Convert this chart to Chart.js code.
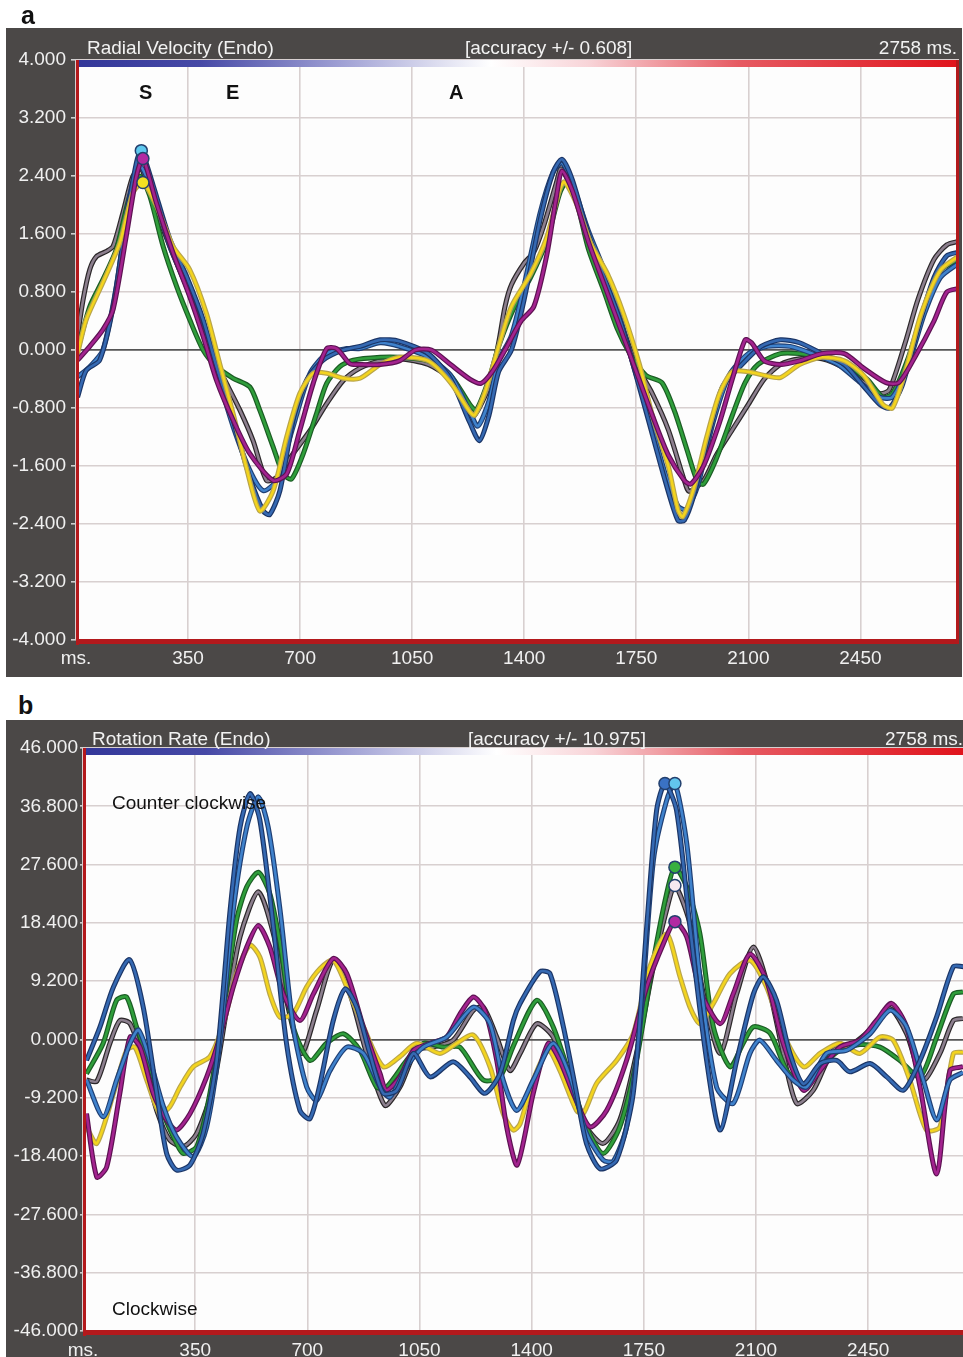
<!DOCTYPE html>
<html lang="en">
<head>
<meta charset="UTF-8" />
<title>Radial Velocity / Rotation Rate (Endo)</title>
<script src="https://cdn.jsdelivr.net/npm/chart.js@4.4.0/dist/chart.umd.min.js"></script>
<style>
  body { margin: 0; background: #fff; font-family: "Liberation Sans", Arial, sans-serif; }
  #page { position: relative; width: 963px; height: 1357px; overflow: hidden; }
  .panel { position: absolute; left: 6px; background: #4b4847; }
  .panel canvas { position: absolute; left: 0; top: 0; }
  .lbl { position: absolute; white-space: nowrap; line-height: 1; z-index: 2; }
  .head { color: #f2f2f2; font-size: 19px; }
  .letter { font-weight: bold; font-size: 25px; color: #111; }
  .wave { font-weight: bold; font-size: 20px; color: #111; }
  .note { font-size: 19px; color: #111; }
</style>
</head>
<body>
<div id="page">
  <div class="lbl letter" style="left:21px; top:3px;">a</div>
  <div class="panel" style="top:28px; width:956px; height:649px;">
    <canvas id="radial" width="956" height="649"></canvas>
  </div>
  <div class="lbl head" style="left:87px; top:38px;">Radial Velocity (Endo)</div>
  <div class="lbl head" style="left:465px; top:38px;">[accuracy +/- 0.608]</div>
  <div class="lbl head" style="right:6px; top:38px;">2758 ms.</div>
  <div class="lbl wave" style="left:139px; top:82px;">S</div>
  <div class="lbl wave" style="left:226px; top:82px;">E</div>
  <div class="lbl wave" style="left:449px; top:82px;">A</div>

  <div class="lbl letter" style="left:18px; top:693px;">b</div>
  <div class="panel" style="top:720px; width:957px; height:637px;">
    <canvas id="rotation" width="957" height="637"></canvas>
  </div>
  <div class="lbl head" style="left:92px; top:729px;">Rotation Rate (Endo)</div>
  <div class="lbl head" style="left:468px; top:729px;">[accuracy +/- 10.975]</div>
  <div class="lbl head" style="left:885px; top:729px;">2758 ms.</div>
  <div class="lbl note" style="left:112px; top:793px;">Counter clockwise</div>
  <div class="lbl note" style="left:112px; top:1299px;">Clockwise</div>
</div>

<script>
  // ---- a: radial velocity (ms / value) ----
  const rvBlueAms = [5, 32, 74, 116, 157, 189, 204, 241, 293, 345, 397, 439, 491, 543, 585, 605, 637, 678, 720, 772, 835, 887, 950, 1010, 1100, 1170, 1230, 1260, 1290, 1320, 1360, 1400, 1450, 1490, 1518, 1550, 1600, 1650, 1700, 1740, 1790, 1840, 1880, 1900, 1930, 1980, 2020, 2080, 2140, 2200, 2260, 2330, 2400, 2460, 2510, 2540, 2580, 2630, 2680, 2720, 2758];
  const rvBlueA = [-0.65, -0.28, -0.14, 0.60, 1.80, 2.59, 2.75, 2.27, 1.53, 1.02, 0.42, -0.23, -0.97, -1.76, -2.22, -2.27, -1.94, -0.97, -0.42, -0.14, 0.0, 0.05, 0.14, 0.12, -0.05, -0.4, -1.0, -1.25, -0.9, -0.3, 0.0, 0.7, 1.8, 2.45, 2.63, 2.35, 1.6, 1.0, 0.4, -0.2, -1.0, -1.8, -2.35, -2.35, -2.0, -1.1, -0.5, -0.2, 0.05, 0.14, 0.1, -0.05, -0.2, -0.5, -0.75, -0.8, -0.5, 0.3, 1.0, 1.3, 1.35];

  const rvBlueBms = [5, 43, 84, 126, 168, 199, 241, 293, 345, 397, 439, 491, 543, 585, 626, 678, 731, 783, 845, 887, 950, 1010, 1100, 1170, 1230, 1255, 1290, 1320, 1360, 1400, 1450, 1490, 1518, 1550, 1600, 1650, 1700, 1740, 1790, 1840, 1880, 1905, 1940, 1990, 2040, 2100, 2160, 2230, 2300, 2380, 2450, 2510, 2550, 2600, 2650, 2700, 2758];
  const rvBlueB = [-0.37, -0.23, 0.0, 0.88, 2.13, 2.54, 2.17, 1.43, 0.88, 0.23, -0.32, -1.06, -1.66, -1.94, -1.80, -1.06, -0.32, -0.05, 0.02, 0.02, 0.1, 0.05, -0.1, -0.35, -0.85, -1.05, -0.7, -0.15, 0.2, 0.9, 1.9, 2.45, 2.58, 2.3, 1.65, 1.1, 0.45, -0.2, -0.9, -1.7, -2.15, -2.2, -1.9, -1.0, -0.35, -0.05, 0.05, 0.05, -0.05, -0.2, -0.45, -0.65, -0.65, -0.2, 0.5, 1.0, 1.2];

  const rvGrayms = [5, 22, 43, 64, 95, 116, 147, 178, 204, 241, 293, 345, 397, 439, 470, 512, 553, 595, 626, 678, 731, 783, 835, 887, 950, 1010, 1100, 1170, 1230, 1245, 1290, 1320, 1340, 1360, 1400, 1430, 1460, 1500, 1515, 1550, 1600, 1650, 1700, 1750, 1800, 1850, 1900, 1915, 1960, 2000, 2050, 2100, 2150, 2200, 2260, 2330, 2400, 2460, 2510, 2540, 2590, 2630, 2680, 2720, 2758];
  const rvGray = [0.2, 0.69, 1.11, 1.29, 1.36, 1.43, 1.90, 2.40, 2.50, 2.03, 1.43, 0.88, 0.28, -0.19, -0.46, -0.83, -1.25, -1.80, -1.76, -1.43, -1.11, -0.74, -0.42, -0.25, -0.15, -0.12, -0.2, -0.4, -0.8, -0.9, -0.5, 0.1, 0.6, 0.9, 1.2, 1.35, 1.7, 2.3, 2.5, 2.2, 1.6, 1.0, 0.4, -0.2, -0.6, -1.1, -1.8, -1.95, -1.8, -1.45, -1.1, -0.75, -0.4, -0.2, -0.12, -0.12, -0.25, -0.45, -0.6, -0.55, 0.1, 0.7, 1.25, 1.45, 1.5];

  const rvGreenms = [5, 43, 84, 126, 168, 199, 230, 272, 314, 355, 397, 439, 491, 543, 574, 616, 647, 673, 710, 751, 783, 824, 866, 950, 1010, 1100, 1170, 1230, 1250, 1290, 1320, 1370, 1420, 1470, 1510, 1530, 1560, 1600, 1650, 1690, 1730, 1780, 1830, 1870, 1910, 1940, 1960, 2000, 2050, 2090, 2130, 2200, 2260, 2330, 2400, 2470, 2520, 2550, 2600, 2650, 2700, 2758];
  const rvGreen = [0.0, 0.60, 0.97, 1.39, 2.13, 2.40, 2.13, 1.43, 0.88, 0.42, 0.0, -0.23, -0.39, -0.51, -0.83, -1.34, -1.71, -1.78, -1.43, -0.88, -0.46, -0.23, -0.14, -0.1, -0.1, -0.15, -0.35, -0.75, -0.83, -0.4, 0.05, 0.6, 1.0, 1.5, 2.15, 2.3, 2.1, 1.4, 0.8, 0.3, -0.05, -0.35, -0.45, -0.85, -1.4, -1.8, -1.85, -1.5, -0.9, -0.45, -0.2, -0.05, -0.05, -0.1, -0.2, -0.4, -0.65, -0.6, -0.1, 0.6, 1.1, 1.25];

  const rvYellowms = [5, 32, 84, 137, 178, 209, 251, 303, 355, 407, 449, 491, 532, 574, 616, 658, 699, 741, 783, 835, 887, 950, 1010, 1100, 1170, 1230, 1245, 1280, 1320, 1360, 1420, 1470, 1510, 1525, 1560, 1610, 1660, 1710, 1760, 1800, 1850, 1880, 1895, 1930, 1970, 2010, 2050, 2100, 2150, 2200, 2260, 2330, 2400, 2460, 2520, 2550, 2590, 2640, 2700, 2758];
  const rvYellow = [-0.05, 0.42, 0.93, 1.48, 2.17, 2.31, 1.99, 1.43, 1.11, 0.51, -0.19, -0.88, -1.62, -2.22, -1.94, -1.20, -0.60, -0.32, -0.32, -0.39, -0.39, -0.2, -0.1, -0.15, -0.45, -0.85, -0.9, -0.55, 0.05, 0.6, 1.05, 1.55, 2.2, 2.32, 2.05, 1.45, 1.05, 0.5, -0.2, -0.9, -1.6, -2.2, -2.3, -1.9, -1.2, -0.6, -0.3, -0.3, -0.35, -0.38, -0.2, -0.1, -0.15, -0.35, -0.75, -0.8, -0.3, 0.5, 1.1, 1.3];

  const rvMagentams = [5, 43, 84, 116, 157, 189, 209, 251, 303, 355, 397, 439, 491, 543, 616, 658, 699, 741, 783, 814, 856, 887, 950, 1010, 1060, 1110, 1170, 1230, 1265, 1300, 1340, 1390, 1430, 1470, 1500, 1518, 1550, 1600, 1650, 1700, 1750, 1800, 1850, 1900, 1920, 1960, 2010, 2050, 2090, 2110, 2150, 2200, 2260, 2330, 2400, 2460, 2530, 2570, 2620, 2680, 2720, 2758];
  const rvMagenta = [-0.14, 0.05, 0.28, 0.56, 1.57, 2.40, 2.64, 2.03, 1.34, 0.74, 0.19, -0.42, -0.97, -1.43, -1.80, -1.71, -1.11, -0.46, 0.02, 0.02, -0.19, -0.2, -0.2, -0.15, 0.0, 0.0, -0.2, -0.4, -0.46, -0.3, 0.0, 0.4, 0.6, 1.3, 2.1, 2.47, 2.2, 1.5, 0.9, 0.3, -0.3, -0.9, -1.45, -1.8, -1.85, -1.6, -1.0, -0.4, 0.14, 0.1, -0.15, -0.2, -0.15, -0.05, -0.05, -0.25, -0.45, -0.45, -0.1, 0.4, 0.8, 0.85];

  const rvMarkMs = [204, 209, 209];
  const rvMark = [2.75, 2.64, 2.31];
  const rvMarkFill = ['#5ec8ee', '#b22aa2', '#f4e020'];

  const rvTicksY = { min: -4, max: 4, step: 0.8 };

  // ---- b: rotation rate (ms / value) ----
  const rrBlueAms = [11, 53, 95, 145, 188, 230, 261, 292, 334, 375, 417, 459, 490, 521, 552, 594, 635, 677, 708, 740, 781, 818, 854, 895, 937, 979, 1031, 1083, 1155, 1207, 1254, 1301, 1343, 1364, 1426, 1457, 1499, 1540, 1571, 1613, 1665, 1717, 1759, 1790, 1816, 1852, 1894, 1946, 1988, 2040, 2092, 2123, 2164, 2206, 2248, 2300, 2352, 2393, 2456, 2508, 2560, 2612, 2664, 2716, 2746];
  const rrBlueA = [-3.3, 2.0, 8.3, 12.6, 5.1, -8.5, -18.0, -20.6, -19.8, -14.8, -3.3, 20.4, 33.5, 38.8, 34.6, 17.8, -0.6, -11.2, -12.5, -6.9, 3.0, 8.0, 5.1, -2.2, -8.5, -8.0, -2.2, -5.9, -3.5, -5.9, -8.5, -5.4, 3.0, 5.7, 10.7, 10.4, 2.0, -8.5, -16.4, -20.4, -19.0, -8.5, 17.8, 36.2, 40.4, 36.2, 17.8, -3.3, -14.3, -3.3, 7.2, 9.9, 6.2, -2.2, -7.0, -3.8, -3.3, -5.1, -3.8, -5.9, -8.0, -3.3, 3.6, 11.5, 11.5];

  const rrBlueBms = [11, 63, 105, 147, 173, 209, 251, 292, 344, 386, 427, 469, 511, 547, 578, 615, 656, 698, 729, 771, 823, 875, 927, 958, 1010, 1062, 1135, 1218, 1270, 1311, 1353, 1405, 1467, 1520, 1571, 1623, 1655, 1696, 1738, 1780, 1821, 1847, 1884, 1925, 1977, 2029, 2081, 2112, 2164, 2216, 2258, 2320, 2383, 2456, 2518, 2570, 2622, 2664, 2705, 2746];
  const rrBlueB = [-6.4, -12.2, -6.4, -0.6, 1.5, -3.3, -10.6, -15.4, -18.5, -13.8, -0.6, 20.4, 33.5, 38.3, 33.5, 20.4, 2.0, -7.5, -9.6, -4.9, -1.2, -2.2, -7.5, -9.1, -4.3, -1.2, 0.4, 5.1, 2.5, -6.4, -11.2, -6.4, -0.6, -5.9, -14.8, -19.0, -19.2, -13.8, 2.0, 28.3, 37.7, 40.4, 30.9, 9.9, -7.5, -10.1, -2.2, -0.1, -3.3, -6.4, -7.5, -2.2, -1.7, 0.9, 4.6, 2.0, -6.4, -12.7, -6.4, -5.2];

  const rrGreenms = [11, 63, 105, 136, 167, 209, 251, 292, 313, 355, 396, 438, 479, 511, 547, 583, 615, 656, 708, 760, 812, 864, 916, 947, 1010, 1062, 1124, 1176, 1249, 1301, 1343, 1416, 1467, 1520, 1571, 1623, 1675, 1727, 1780, 1821, 1847, 1884, 1925, 1967, 2019, 2060, 2092, 2144, 2196, 2248, 2300, 2362, 2424, 2487, 2549, 2612, 2664, 2716, 2746];
  const rrGreen = [-5.4, -0.6, 6.2, 6.7, 2.0, -4.3, -11.7, -16.4, -18.0, -16.9, -8.5, 4.6, 18.8, 24.1, 26.4, 23.0, 15.1, 2.0, -3.3, -0.6, 0.9, -1.7, -7.5, -7.5, -3.3, -0.6, -1.2, -1.2, -6.4, -5.9, -1.0, 6.2, 2.0, -5.9, -13.8, -18.0, -13.8, -3.3, 12.5, 23.0, 27.2, 24.1, 16.7, 2.0, -4.3, -0.6, 2.0, 1.0, -4.9, -7.2, -4.3, -1.7, -0.8, -1.2, -3.3, -5.9, 0.4, 7.2, 7.5];

  const rrGrayms = [11, 43, 84, 115, 147, 188, 230, 271, 313, 355, 406, 448, 490, 547, 594, 635, 682, 729, 781, 833, 885, 942, 989, 1041, 1093, 1155, 1218, 1249, 1291, 1332, 1364, 1416, 1467, 1520, 1571, 1623, 1675, 1727, 1780, 1821, 1847, 1894, 1936, 1988, 2040, 2092, 2144, 2185, 2227, 2279, 2341, 2404, 2466, 2518, 2570, 2622, 2674, 2716, 2746];
  const rrGray = [-6.4, -6.6, -0.6, 3.0, 2.5, -3.3, -11.2, -15.9, -16.9, -14.8, -7.5, 4.6, 16.2, 23.3, 16.7, 6.2, -2.2, 4.6, 12.5, 7.2, -2.2, -10.4, -7.5, -1.7, -1.2, -0.1, 4.6, 5.1, 0.4, -4.9, -2.2, 2.5, 0.4, -6.4, -13.8, -16.4, -12.7, -2.2, 11.5, 20.4, 24.3, 18.3, 7.2, -2.2, 7.2, 14.6, 7.2, -2.2, -10.1, -8.0, -1.7, -0.6, 2.0, 4.9, 0.9, -6.4, -2.2, 3.0, 3.3];

  const rrYellowms = [11, 43, 95, 136, 162, 199, 240, 271, 303, 344, 396, 438, 479, 521, 552, 583, 615, 656, 698, 740, 781, 823, 875, 937, 989, 1041, 1114, 1166, 1218, 1270, 1311, 1343, 1364, 1405, 1452, 1488, 1540, 1561, 1603, 1665, 1717, 1769, 1821, 1863, 1894, 1925, 1967, 2019, 2081, 2133, 2185, 2248, 2300, 2362, 2424, 2487, 2528, 2580, 2632, 2674, 2716, 2746];
  const rrYellow = [-13.8, -16.4, -8.5, -1.7, -1.2, -6.4, -11.7, -10.6, -7.5, -4.3, -2.7, 2.5, 10.4, 14.9, 13.0, 7.2, 3.5, 4.1, 8.3, 11.2, 12.5, 8.3, 2.0, -4.3, -2.7, -0.6, -2.2, -0.6, 0.7, -4.3, -11.7, -14.3, -13.3, -6.4, -1.7, -4.9, -11.2, -11.7, -6.9, -3.3, 0.9, 11.5, 16.7, 9.9, 5.1, 2.5, 5.7, 10.4, 12.5, 8.3, 0.9, -4.3, -2.2, -0.6, -2.2, 0.4, -0.1, -6.4, -14.3, -13.8, -2.2, -2.0];

  const rrMagentams = [11, 43, 74, 115, 147, 178, 219, 261, 292, 334, 386, 427, 469, 511, 547, 583, 625, 677, 719, 781, 823, 875, 927, 947, 989, 1031, 1083, 1135, 1176, 1218, 1254, 1291, 1322, 1355, 1405, 1452, 1488, 1530, 1582, 1634, 1696, 1759, 1811, 1847, 1884, 1925, 1988, 2029, 2081, 2133, 2185, 2248, 2300, 2362, 2424, 2476, 2523, 2570, 2612, 2664, 2705, 2746];
  const rrMagenta = [-11.7, -21.7, -20.1, -8.5, 0.4, -1.2, -8.5, -12.7, -14.3, -11.7, -5.9, 0.4, 8.3, 14.6, 18.0, 14.6, 7.2, 3.0, 7.2, 12.8, 10.4, 2.0, -5.4, -8.0, -5.9, -1.7, -0.6, 0.4, 4.0, 6.7, 4.6, -3.3, -13.8, -19.8, -8.5, -0.6, -3.3, -8.5, -13.8, -11.2, -3.3, 8.3, 15.1, 18.6, 16.2, 7.8, 2.5, 7.2, 13.5, 9.3, -0.6, -8.0, -4.9, -1.2, -0.1, 3.0, 5.7, 2.0, -7.5, -21.2, -4.9, -4.3];

  const rrMarkMs = [1816, 1847, 1847, 1847, 1847];
  const rrMark = [40.4, 40.4, 27.2, 24.3, 18.6];
  const rrMarkFill = ['#3a72c4', '#62c6ee', '#38b040', '#f6e8f0', '#b22aa2'];

  const rrTicksY = { min: -46, max: 46, step: 9.2 };

  // x ticks every 350 ms; the first one is labelled "ms."
  const xTickVals = [0, 350, 700, 1050, 1400, 1750, 2100, 2450];
  const fontFam = '"Liberation Sans", Arial, sans-serif';

  // colours, bottom series first
  const seriesLook = {
    gray:    { color: '#8c7f8e', edge: '#2b2729' },
    green:   { color: '#2f9e3b', edge: '#1b5c24' },
    blueB:   { color: '#3f82cc', edge: '#1f3f74' },
    blueA:   { color: '#3569b2', edge: '#1b3566' },
    yellow:  { color: '#f3d41e', edge: '#b9a54a' },
    magenta: { color: '#a3238f', edge: '#5c1252' }
  };

  function pts(ms, vals) {
    return ms.map((t, i) => ({ x: t, y: vals[i] }));
  }

  function buildSets(list, markMs, markVals, markFill) {
    const sets = [];
    list.forEach((s, i) => {
      const look = seriesLook[s.key];
      const base = 2 * (list.length - i) + 2;
      sets.push({ data: pts(s.ms, s.vals), borderColor: look.edge, borderWidth: 5,
        pointRadius: 0, tension: 0.25, order: base });
      sets.push({ data: pts(s.ms, s.vals), borderColor: look.color, borderWidth: 2.6,
        pointRadius: 0, tension: 0.25, order: base - 1 });
    });
    sets.push({ data: pts(markMs, markVals), showLine: false, pointRadius: 6,
      pointBackgroundColor: markFill, pointBorderColor: '#23406e', pointBorderWidth: 1.5, order: 0 });
    return sets;
  }

  // white plot, gradient strip and red frame like the echo software
  const panelFrame = {
    id: 'panelFrame',
    beforeDraw(chart) {
      const a = chart.chartArea, ctx = chart.ctx;
      ctx.save();
      ctx.fillStyle = '#fdfdfd';
      ctx.fillRect(a.left, a.top, a.right - a.left, a.bottom - a.top);
      ctx.restore();
    },
    afterDraw(chart, args, opts) {
      const a = chart.chartArea, ctx = chart.ctx;
      ctx.save();
      const g = ctx.createLinearGradient(a.left, 0, a.right, 0);
      g.addColorStop(0, '#333799');
      g.addColorStop(0.14, '#4649a6');
      g.addColorStop(0.3, '#9fa0d4');
      g.addColorStop(0.47, '#ffffff');
      g.addColorStop(0.58, '#f8d4d8');
      g.addColorStop(0.75, '#e65a62');
      g.addColorStop(1, '#e0141c');
      ctx.fillStyle = g;
      ctx.fillRect(a.left, a.top, a.right - a.left, 7);
      ctx.fillStyle = '#b3191c';
      ctx.fillRect(a.left, a.top, 3, a.bottom - a.top + 5);
      ctx.fillRect(a.left, a.bottom - 1, a.right - a.left, 5);
      if (opts.rightEdge) ctx.fillRect(a.right - 3, a.top, 3, a.bottom - a.top + 4);
      ctx.restore();
    }
  };

  function makeChart(id, list, marks, yT, cfg) {
    return new Chart(document.getElementById(id), {
      type: 'line',
      data: { datasets: buildSets(list, marks[0], marks[1], marks[2]) },
      options: {
        responsive: false,
        animation: false,
        layout: { autoPadding: false, padding: { top: cfg.padTop, right: cfg.padRight, left: 0, bottom: 0 } },
        plugins: { legend: { display: false }, tooltip: { enabled: false }, panelFrame: { rightEdge: cfg.rightEdge } },
        scales: {
          x: {
            type: 'linear', min: 0, max: cfg.xMax,
            afterBuildTicks: s => { s.ticks = xTickVals.map(v => ({ value: v })); },
            afterFit: s => { s.height = cfg.xHeight; s.paddingRight = 0; s.paddingLeft = 0; },
            grid: { color: '#d8d0d0', lineWidth: 1.6, drawTicks: false },
            border: { display: false },
            ticks: {
              autoSkip: false, maxRotation: 0,
              padding: cfg.xPad, color: '#f0f0f0', font: { family: fontFam, size: 19 },
              callback: v => v === 0 ? 'ms.' : String(v)
            }
          },
          y: {
            min: yT.min, max: yT.max,
            afterFit: s => { s.width = cfg.yWidth; s.paddingTop = 0; s.paddingBottom = 0; },
            grid: {
              color: c => Math.abs(c.tick.value) < 1e-9 ? '#555' : '#d8d0d0',
              lineWidth: c => Math.abs(c.tick.value) < 1e-9 ? 1.8 : 1.6,
              tickColor: '#cfcfcf', tickLength: cfg.tickLen
            },
            border: { display: false },
            ticks: {
              stepSize: yT.step, padding: cfg.yPad, color: '#f0f0f0',
              font: { family: fontFam, size: 19 },
              callback: v => Number(v).toFixed(3)
            }
          }
        }
      },
      plugins: [panelFrame]
    });
  }

  makeChart('radial', [
    { key: 'gray', ms: rvGrayms, vals: rvGray },
    { key: 'green', ms: rvGreenms, vals: rvGreen },
    { key: 'blueB', ms: rvBlueBms, vals: rvBlueB },
    { key: 'blueA', ms: rvBlueAms, vals: rvBlueA },
    { key: 'yellow', ms: rvYellowms, vals: rvYellow },
    { key: 'magenta', ms: rvMagentams, vals: rvMagenta }
  ], [rvMarkMs, rvMark, rvMarkFill], rvTicksY,
  { padTop: 32, padRight: 3, xMax: 2758, xHeight: 37, yWidth: 70, xPad: 7, yPad: 5, tickLen: 5, rightEdge: true });

  makeChart('rotation', [
    { key: 'gray', ms: rrGrayms, vals: rrGray },
    { key: 'green', ms: rrGreenms, vals: rrGreen },
    { key: 'yellow', ms: rrYellowms, vals: rrYellow },
    { key: 'magenta', ms: rrMagentams, vals: rrMagenta },
    { key: 'blueB', ms: rrBlueBms, vals: rrBlueB },
    { key: 'blueA', ms: rrBlueAms, vals: rrBlueA }
  ], [rrMarkMs, rrMark, rrMarkFill], rrTicksY,
  { padTop: 28, padRight: 0, xMax: 2746, xHeight: 26, yWidth: 77, xPad: 8, yPad: 2, tickLen: 3, rightEdge: false });
</script>
</body>
</html>
